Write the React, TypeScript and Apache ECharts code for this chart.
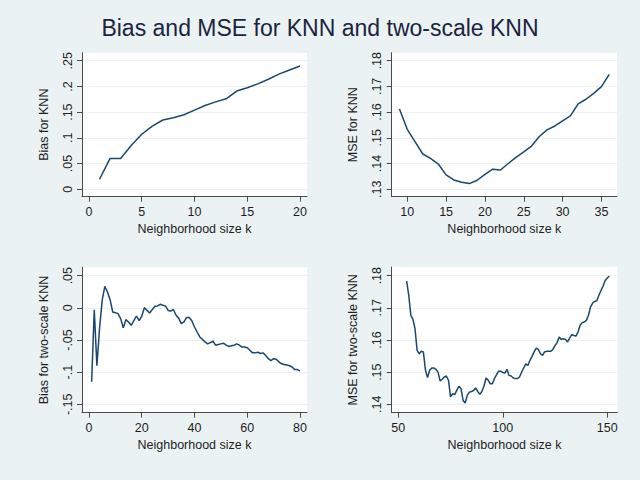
import React, { useEffect, useRef } from "react";
import * as echarts from "echarts";

// Panel 1: Bias for KNN, k = 1..20
const k1Start = 1;
const bias1 = [0.0195, 0.06, 0.06, 0.085, 0.107, 0.123, 0.1347, 0.139, 0.145, 0.154, 0.163, 0.17, 0.176, 0.191, 0.1975, 0.205, 0.214, 0.224, 0.232, 0.2396];

// Panel 2: MSE for KNN, k = 9..36
const k2Start = 9;
const mse1 = [0.1612, 0.1533, 0.1485, 0.1437, 0.142, 0.1398, 0.1356, 0.1336, 0.1327, 0.1322, 0.1335, 0.1358, 0.1378, 0.1375, 0.14, 0.1424, 0.1445, 0.1468, 0.1505, 0.1531, 0.1546, 0.1566, 0.1585, 0.1632, 0.165, 0.1673, 0.1699, 0.1747];

// Panel 3: Bias for two-scale KNN, k = 1..80
const k3Start = 1;
const bias2 = [
  -0.115, -0.003, -0.09, -0.032, 0.0116, 0.0334, 0.0246, 0.0127, -0.0065, -0.0075,
  -0.009, -0.0168, -0.031, -0.0184, -0.022, -0.0272, -0.02, -0.0127, -0.02, -0.013,
  0.0003, -0.004, -0.008, -0.0025, 0.0023, 0.003, 0.0055, 0.004, 0.003, -0.004,
  -0.005, -0.0025, -0.0116, -0.016, -0.0246, -0.022, -0.015, -0.015, -0.02, -0.0298,
  -0.0376, -0.0453, -0.049, -0.053, -0.056, -0.054, -0.052, -0.058, -0.057, -0.056,
  -0.055, -0.058, -0.06, -0.059, -0.058, -0.056, -0.058, -0.061, -0.061, -0.062,
  -0.066, -0.07, -0.07, -0.069, -0.071, -0.07, -0.074, -0.079, -0.082, -0.079,
  -0.08, -0.084, -0.087, -0.088, -0.089, -0.09, -0.092, -0.096, -0.096, -0.098,
];

// Panel 4: MSE for two-scale KNN, k = 54..151
const k4Start = 54;
const mse2 = [
  0.1783, 0.1739, 0.1677, 0.1664, 0.1635, 0.1568, 0.1557, 0.1565, 0.1563, 0.1506,
  0.1483, 0.1506, 0.1513, 0.1513, 0.1509, 0.15, 0.1473, 0.1478, 0.1485, 0.1488,
  0.1475, 0.1423, 0.1433, 0.143, 0.1444, 0.1456, 0.1449, 0.1412, 0.1404, 0.1428,
  0.1438, 0.144, 0.1443, 0.1451, 0.144, 0.1431, 0.144, 0.1457, 0.1482, 0.1475,
  0.1464, 0.1464, 0.148, 0.1492, 0.1503, 0.1503, 0.1499, 0.1497, 0.1509, 0.149,
  0.1488, 0.1482, 0.148, 0.148, 0.1485, 0.15, 0.1513, 0.1526, 0.1521, 0.1537,
  0.1549, 0.1563, 0.1575, 0.1571, 0.1558, 0.1552, 0.1563, 0.1565, 0.1565, 0.1565,
  0.1571, 0.1583, 0.1592, 0.1609, 0.1602, 0.1604, 0.1602, 0.1594, 0.1606, 0.1617,
  0.1614, 0.1612, 0.1625, 0.1646, 0.1654, 0.1656, 0.1661, 0.1677, 0.1703, 0.1715,
  0.172, 0.1722, 0.1739, 0.1754, 0.1768, 0.1785, 0.1793, 0.1799,
];

// Tick values
const xTicks1 = [0, 5, 10, 15, 20];
const yTicks1 = [0, 0.05, 0.1, 0.15, 0.2, 0.25];
const xTicks2 = [10, 15, 20, 25, 30, 35];
const yTicks2 = [0.13, 0.14, 0.15, 0.16, 0.17, 0.18];
const xTicks3 = [0, 20, 40, 60, 80];
const yTicks3 = [-0.15, -0.1, -0.05, 0, 0.05];
const xTicks4 = [50, 100, 150];
const yTicks4 = [0.14, 0.15, 0.16, 0.17, 0.18];

const titleText = "Bias and MSE for KNN and two-scale KNN";
const xName = "Neighborhood size k";
const yNames = ["Bias for KNN", "MSE for KNN", "Bias for two-scale KNN", "MSE for two-scale KNN"];

const FONT = "Liberation Sans, Arial, sans-serif";
const TXT = "#1e1e1e";
const AXIS = "#4a4a4a";
const BG = "#eaf2f3";
const LINE = "#1a476f";

const fmtY = (v: number) => {
  const s = String(Number(Number(v).toFixed(4)));
  return s.replace(/^(-?)0\./, "$1.");
};

const toPairs = (start: number, vals: number[]) => vals.map((v, i) => [start + i, v]);

export default function App() {
  const ref = useRef<HTMLDivElement>(null);
  useEffect(() => {
    if (!ref.current) return;
    const chart = echarts.init(ref.current, null, { renderer: "svg" });
    const grids = [
      { left: 82, top: 52.7, width: 225, height: 144 },
      { left: 391.7, top: 52.7, width: 225.3, height: 144 },
      { left: 82, top: 267.3, width: 225, height: 145.4 },
      { left: 391.7, top: 267, width: 225.6, height: 145.7 },
    ];
    const xr = [
      [-0.66, 20.66, xTicks1],
      [8.0, 37.0, xTicks2],
      [-2.65, 82.65, xTicks3],
      [46.84, 154.8, xTicks4],
    ] as [number, number, number[]][];
    const yr = [
      [-0.0144, 0.2656, yTicks1],
      [0.1271, 0.1831, yTicks2],
      [-0.163, 0.063, yTicks3],
      [0.1374, 0.1827, yTicks4],
    ] as [number, number, number[]][];
    const data = [
      toPairs(k1Start, bias1),
      toPairs(k2Start, mse1),
      toPairs(k3Start, bias2),
      toPairs(k4Start, mse2),
    ];
    const option: any = {
      animation: false,
      backgroundColor: BG,
      title: {
        text: titleText,
        left: "center",
        top: 11,
        textStyle: { fontFamily: FONT, fontSize: 23, fontWeight: "normal", color: "#1b2440" },
      },
      grid: grids.map((g) => ({ ...g, show: true, backgroundColor: "#ffffff", borderWidth: 0 })),
      xAxis: xr.map(([min, max, ticks], i) => ({
        type: "value",
        gridIndex: i,
        min,
        max,
        name: xName,
        nameLocation: "middle",
        nameGap: 26,
        nameTextStyle: { fontFamily: FONT, fontSize: 12.5, color: TXT },
        axisLine: { show: true, onZero: false, lineStyle: { color: AXIS, width: 1 } },
        axisTick: { show: true, length: 5, customValues: ticks, lineStyle: { color: AXIS } },
        axisLabel: {
          customValues: ticks,
          margin: 9,
          fontFamily: FONT,
          fontSize: 12.5,
          color: TXT,
          showMinLabel: true,
          showMaxLabel: true,
        },
        splitLine: { show: false },
      })),
      yAxis: yr.map(([min, max, ticks], i) => ({
        type: "value",
        gridIndex: i,
        min,
        max,
        name: yNames[i],
        nameLocation: "middle",
        nameGap: 32,
        nameTextStyle: { fontFamily: FONT, fontSize: 12.5, color: TXT },
        axisLine: { show: true, onZero: false, lineStyle: { color: AXIS, width: 1 } },
        axisTick: { show: true, length: 5, customValues: ticks, lineStyle: { color: AXIS } },
        axisLabel: {
          customValues: ticks,
          rotate: 90,
          margin: 8,
          fontFamily: FONT,
          fontSize: 12.5,
          color: TXT,
          formatter: (v: number) => fmtY(v),
          showMinLabel: true,
          showMaxLabel: true,
        },
        splitLine: { show: true, lineStyle: { color: BG, width: 1.2 } },
      })),
      series: data.map((d, i) => ({
        type: "line",
        xAxisIndex: i,
        yAxisIndex: i,
        data: d,
        showSymbol: false,
        symbol: "none",
        lineStyle: { color: LINE, width: 1.5 },
        silent: true,
      })),
    };
    chart.setOption(option);
    return () => chart.dispose();
  }, []);
  return (
    <div
      ref={ref}
      style={{ position: "fixed", left: 0, top: 0, width: 640, height: 480 }}
    />
  );
}
